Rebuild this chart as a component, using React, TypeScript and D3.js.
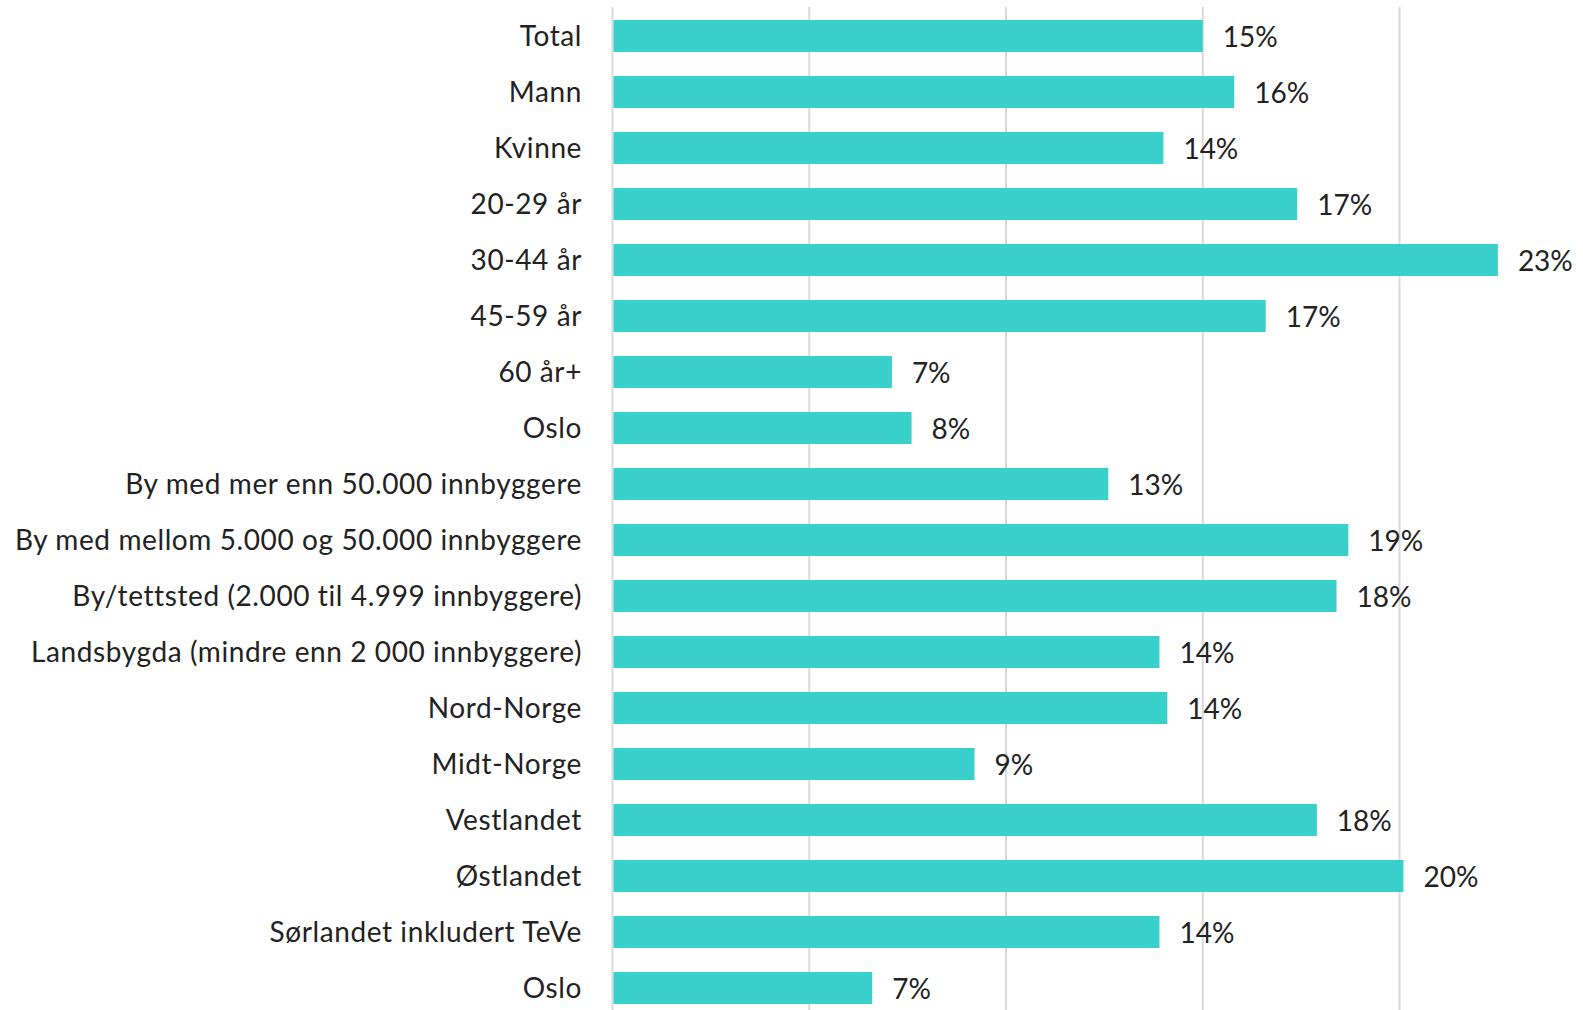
import React from "react";
import * as d3 from "d3";

const categories: string[] = [
  "Total",
  "Mann",
  "Kvinne",
  "20-29 år",
  "30-44 år",
  "45-59 år",
  "60 år+",
  "Oslo",
  "By med mer enn 50.000 innbyggere",
  "By med mellom 5.000 og 50.000 innbyggere",
  "By/tettsted (2.000 til 4.999 innbyggere)",
  "Landsbygda (mindre enn 2 000 innbyggere)",
  "Nord-Norge",
  "Midt-Norge",
  "Vestlandet",
  "Østlandet",
  "Sørlandet inkludert TeVe",
  "Oslo",
];

const values: number[] = [
  15.0, 15.8, 14.0, 17.4, 22.5, 16.6, 7.1, 7.6, 12.6, 18.7, 18.4, 13.9, 14.1,
  9.2, 17.9, 20.1, 13.9, 6.6,
];

const gridTicks: number[] = [0, 5, 10, 15, 20];

const W = 1583;
const H = 1010;
const FONT = "Lato, 'Open Sans', sans-serif";
const BAR = "#39CFCA";
const GRID = "#D9D9D9";
const TEXT = "#222222";

export default function App() {
  const x = d3.scaleLinear().domain([0, 20]).range([612.5, 1399.5]);
  const idx = categories.map((_, i) => String(i));
  const y = d3
    .scaleBand<string>()
    .domain(idx)
    .range([8, 1016])
    .paddingInner(0.4286)
    .paddingOuter(0.2143);
  const bw = y.bandwidth();

  return (
    <svg
      width={W}
      height={H}
      style={{ position: "absolute", left: 0, top: 0, background: "#fff" }}
      fontFamily={FONT}
    >
      {gridTicks.map((t) => (
        <line
          key={"g" + t}
          x1={x(t)}
          x2={x(t)}
          y1={7}
          y2={H}
          stroke={GRID}
          strokeWidth={2}
        />
      ))}
      {values.map((v, i) => {
        const yy = y(String(i))!;
        return (
          <g key={"b" + i}>
            <rect
              x={x(0) + 1}
              y={yy}
              width={x(v) - x(0) - 1}
              height={bw}
              fill={BAR}
            />
            <text
              x={x(v) + 20}
              y={yy + bw / 2}
              dominantBaseline="central"
              fontSize={28}
              fill={TEXT}
            >
              {Math.round(v) + "%"}
            </text>
            <text
              x={582}
              y={yy + bw / 2 - 1.5}
              dominantBaseline="central"
              textAnchor="end"
              fontSize={28}
              letterSpacing={0.6}
              fill={TEXT}
            >
              {categories[i]}
            </text>
          </g>
        );
      })}
    </svg>
  );
}
